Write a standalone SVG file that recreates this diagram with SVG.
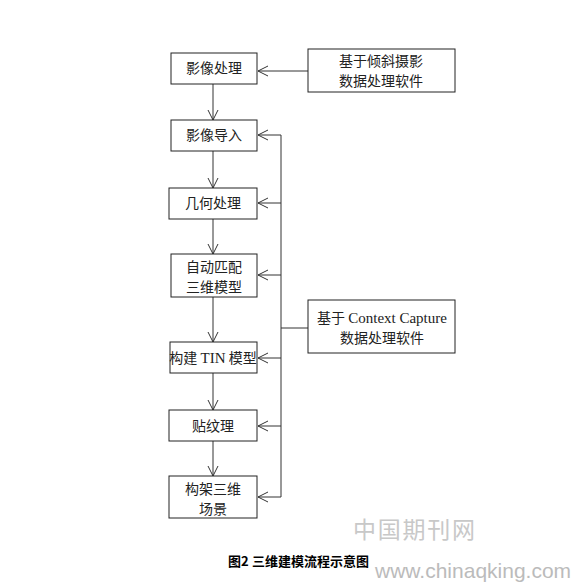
<svg xmlns="http://www.w3.org/2000/svg" width="581" height="587" viewBox="0 0 581 587">
<defs>
<marker id="arr" markerWidth="12" markerHeight="12" refX="11" refY="6" orient="auto" markerUnits="userSpaceOnUse">
<path d="M1,1 L11,6 L1,11" fill="none" stroke="#333" stroke-width="1"/>
</marker>
</defs>
<style>
.box{fill:#fff;stroke:#222;stroke-width:1}
.t{font-family:"Noto Sans CJK SC","Liberation Sans",sans-serif;font-size:14px;fill:#222;text-anchor:middle}
.en{font-family:"Liberation Serif",serif}
.ln{fill:none;stroke:#333;stroke-width:1}
.cap{font-family:"Noto Sans CJK SC",sans-serif;font-size:13px;font-weight:bold;fill:#000}
.wm{font-family:"Noto Sans CJK SC","Liberation Sans",sans-serif;fill:#c8c8c8}
.wm2{font-family:"Liberation Sans",sans-serif;fill:#bbb}
</style>
<rect width="581" height="587" fill="#fff"/>
<g id="connectors">
<path class="ln" d="M308,71 H258" marker-end="url(#arr)"/>
<path class="ln" d="M213,84 V120" marker-end="url(#arr)"/>
<path class="ln" d="M213,151 V188" marker-end="url(#arr)"/>
<path class="ln" d="M213,219 V254" marker-end="url(#arr)"/>
<path class="ln" d="M213,297 V342" marker-end="url(#arr)"/>
<path class="ln" d="M213,373 V410" marker-end="url(#arr)"/>
<path class="ln" d="M213,441 V476" marker-end="url(#arr)"/>
<path class="ln" d="M308,328 H281"/>
<path class="ln" d="M281,135 V497"/>
<path class="ln" d="M281,135 H258" marker-end="url(#arr)"/>
<path class="ln" d="M281,203 H258" marker-end="url(#arr)"/>
<path class="ln" d="M281,275 H258" marker-end="url(#arr)"/>
<path class="ln" d="M281,358 H258" marker-end="url(#arr)"/>
<path class="ln" d="M281,426 H258" marker-end="url(#arr)"/>
<path class="ln" d="M281,497 H258" marker-end="url(#arr)"/>
</g>
<g id="n1"><rect class="box" x="171" y="53" width="86" height="31"/><text class="t" x="214" y="73">影像处理</text></g>
<g id="s1"><rect class="box" x="308" y="49" width="147" height="43"/><text class="t" x="381" y="66">基于倾斜摄影</text><text class="t" x="381" y="86">数据处理软件</text></g>
<g id="n2"><rect class="box" x="171" y="120" width="86" height="31"/><text class="t" x="214" y="140">影像导入</text></g>
<g id="n3"><rect class="box" x="169" y="188" width="88" height="31"/><text class="t" x="213" y="208">几何处理</text></g>
<g id="n4"><rect class="box" x="171" y="254" width="86" height="43"/><text class="t" x="214" y="272">自动匹配</text><text class="t" x="214" y="292">三维模型</text></g>
<g id="s2"><rect class="box" x="308" y="300" width="147" height="53"/><text class="t" x="382" y="323">基于 <tspan class="en" font-size="15">Context Capture</tspan></text><text class="t" x="382" y="343">数据处理软件</text></g>
<g id="n5"><rect class="box" x="170" y="342" width="87" height="31"/><text class="t" x="213" y="363">构建 <tspan class="en" font-size="15">TIN</tspan> 模型</text></g>
<g id="n6"><rect class="box" x="169" y="410" width="88" height="31"/><text class="t" x="213" y="431">贴纹理</text></g>
<g id="n7"><rect class="box" x="169" y="476" width="88" height="42"/><text class="t" x="213" y="494">构架三维</text><text class="t" x="213" y="514">场景</text></g>
<text class="wm" x="353" y="538" font-size="23" textLength="122">中国期刊网</text>
<text class="cap" x="228" y="566">图2<tspan x="252">三维建模流程示意图</tspan></text>
<text class="wm2" x="375" y="578" font-size="21">www.chinaqking.com</text>
</svg>
